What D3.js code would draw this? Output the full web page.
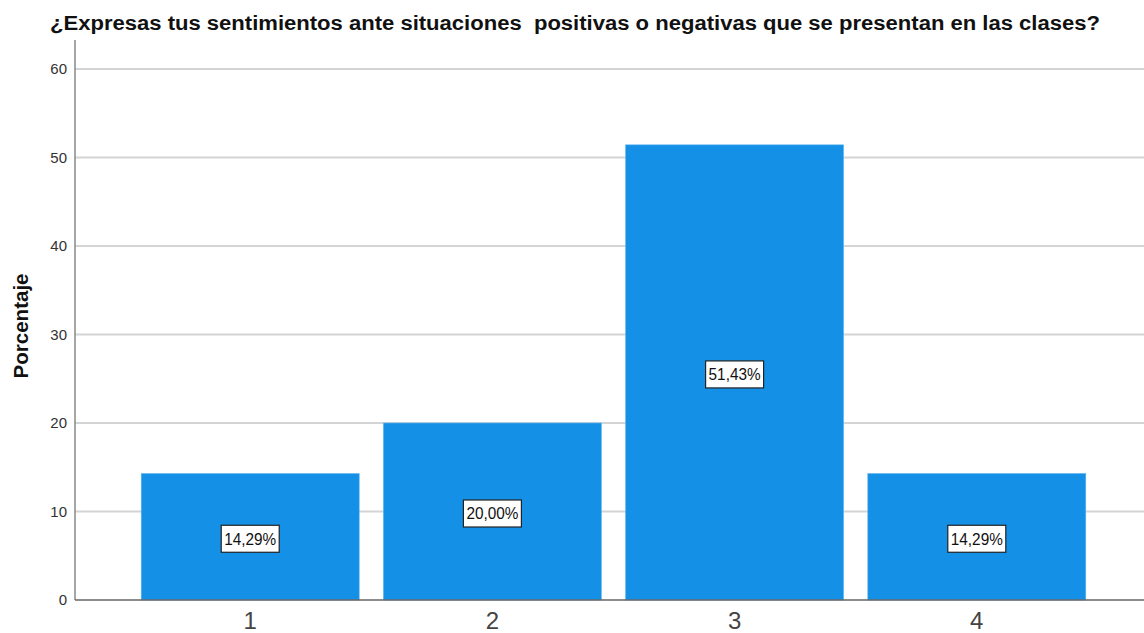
<!DOCTYPE html>
<html>
<head>
<meta charset="utf-8">
<script src="https://cdn.jsdelivr.net/npm/d3@7"></script>
<style>
  body { margin: 0; background: #fff; }
  svg { display: block; font-family: Arial, "Liberation Sans", sans-serif; }
</style>
</head>
<body>
<svg id="chart" width="1144" height="633"></svg>
<script>
const categories = ['1', '2', '3', '4'];
const percentages = [14.29, 20.00, 51.43, 14.29];
const valueLabels = ['14,29%', '20,00%', '51,43%', '14,29%'];
const yTicks = [0, 10, 20, 30, 40, 50, 60];
const titleText = '¿Expresas tus sentimientos ante situaciones\u00a0 positivas o negativas que se presentan en las clases?';
const yTitle = 'Porcentaje';

const width = 1144;
const height = 633;
const margin = { top: 40, right: 0, bottom: 33, left: 75 };

const svg = d3.select('#chart');

const x = d3.scaleBand()
  .domain(categories)
  .range([117, 1110])
  .paddingInner(0.1)
  .paddingOuter(0.1);

const y = d3.scaleLinear()
  .domain([0, 60])
  .range([600, 69]);

// gridlines
svg.append('g')
  .selectAll('line')
  .data(yTicks.filter(d => d > 0))
  .join('line')
  .attr('x1', margin.left)
  .attr('x2', width)
  .attr('y1', d => y(d))
  .attr('y2', d => y(d))
  .attr('stroke', '#d4d4d4')
  .attr('stroke-width', 2);

// bars
svg.append('g')
  .selectAll('rect')
  .data(percentages)
  .join('rect')
  .attr('x', (d, i) => x(categories[i]))
  .attr('y', d => y(d))
  .attr('width', x.bandwidth())
  .attr('height', d => y(0) - y(d))
  .attr('fill', '#1491e6')
  .attr('stroke', '#5fb3f0')
  .attr('stroke-width', 0.6);

// y axis
const yAxis = svg.append('g')
  .attr('transform', `translate(${margin.left},0)`)
  .call(d3.axisLeft(y).tickValues(yTicks).tickSize(0).tickPadding(8));
yAxis.select('.domain').remove();
yAxis.selectAll('text')
  .attr('font-size', 15)
  .attr('fill', '#333');

svg.append('line')
  .attr('x1', margin.left).attr('x2', margin.left)
  .attr('y1', margin.top).attr('y2', y(0))
  .attr('stroke', '#888').attr('stroke-width', 1.5);

// x axis
const xAxis = svg.append('g')
  .attr('transform', `translate(0,${y(0)})`)
  .call(d3.axisBottom(x).tickSize(0).tickPadding(12));
xAxis.select('.domain').remove();
xAxis.selectAll('text')
  .attr('dy', null)
  .attr('y', 29)
  .attr('font-size', 24)
  .attr('fill', '#444');

svg.append('line')
  .attr('x1', margin.left).attr('x2', width)
  .attr('y1', y(0)).attr('y2', y(0))
  .attr('stroke', '#666').attr('stroke-width', 1.5);

// value labels
const labels = svg.append('g')
  .selectAll('g')
  .data(percentages)
  .join('g')
  .attr('transform', (d, i) => `translate(${x(categories[i]) + x.bandwidth() / 2},${y(d / 2) + 2})`);

labels.append('rect')
  .attr('x', -29)
  .attr('y', -13.5)
  .attr('width', 58)
  .attr('height', 27)
  .attr('fill', '#fff')
  .attr('stroke', '#222')
  .attr('stroke-width', 1.2);

labels.append('text')
  .attr('text-anchor', 'middle')
  .attr('dy', '0.36em')
  .attr('font-size', 16)
  .attr('fill', '#111')
  .attr('textLength', 52)
  .attr('lengthAdjust', 'spacingAndGlyphs')
  .text((d, i) => valueLabels[i]);

// title
svg.append('text')
  .attr('x', 50)
  .attr('y', 30)
  .attr('font-size', 20)
  .attr('font-weight', 'bold')
  .attr('fill', '#111')
  .attr('textLength', 1050)
  .attr('lengthAdjust', 'spacingAndGlyphs')
  .text(titleText);

// y title
svg.append('text')
  .attr('transform', 'translate(28,326) rotate(-90)')
  .attr('text-anchor', 'middle')
  .attr('font-size', 20)
  .attr('font-weight', 'bold')
  .attr('fill', '#111')
  .attr('textLength', 105)
  .attr('lengthAdjust', 'spacingAndGlyphs')
  .text(yTitle);
</script>
</body>
</html>
